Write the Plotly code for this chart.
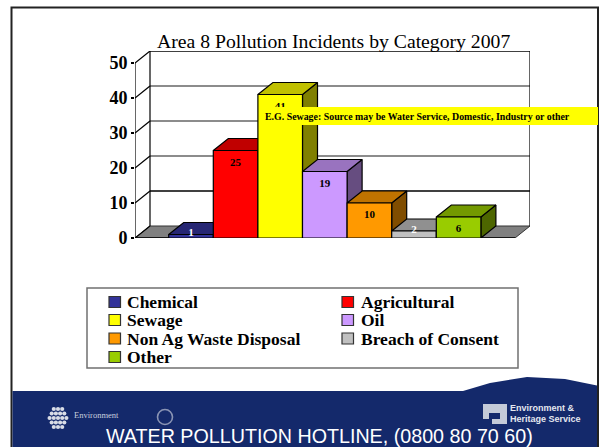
import plotly.graph_objects as go

# ---- data ----
categories = ["Chemical", "Agricultural", "Sewage", "Oil", "Non Ag Waste Disposal", "Breach of Consent", "Other"]
values = [1, 25, 41, 19, 10, 2, 6]
front_colors = ["#333399", "#FF0000", "#FFFF00", "#CC99FF", "#FF9900", "#C0C0C0", "#99CC00"]
top_colors = ["#262673", "#C00000", "#C0C000", "#9973BF", "#BF7300", "#909090", "#739900"]
side_colors = ["#1A1A4D", "#800000", "#808000", "#664D80", "#804D00", "#606060", "#4D6600"]
y_ticks = [0, 10, 20, 30, 40, 50]
title = "Area 8 Pollution Incidents by Category 2007"
note = "E.G. Sewage: Source may be Water Service, Domestic, Industry or other"
footer = "WATER POLLUTION HOTLINE, (0800 80 70 60)"

# ---- chart geometry in axis units ----
W, H = 600, 447
L, R, T, B = 135, 530, 51, 238     # plot box in pixels
PX_X, PX_Y = 44.6, 3.5             # pixels per bar / per incident
X0 = 191                            # pixel centre of first bar
DX, DY = 15 / PX_X, 12 / PX_Y       # depth of the 3-D effect
xmin, xmax = (L - X0) / PX_X, (R - X0) / PX_X
ymax = (B - T) / PX_Y
front_r = xmax - DX


def px(x):
    return x / W


def py(y):
    return 1 - y / H


fig = go.Figure()


def face(xs, ys, color, name, line="#000000", lw=1.2):
    fig.add_trace(go.Scatter(x=xs, y=ys, mode="lines", fill="toself", fillcolor=color,
                             line=dict(color=line, width=lw), name=name,
                             hoverinfo="skip", showlegend=False, cliponaxis=False))


def line(xs, ys, color="#000000", lw=1.2):
    fig.add_trace(go.Scatter(x=xs, y=ys, mode="lines", line=dict(color=color, width=lw),
                             hoverinfo="skip", showlegend=False, cliponaxis=False))


# walls and grid
face([xmin, front_r, xmax, xmin + DX, xmin], [0, 0, DY, DY, 0], "#808080", "floor", "#333333", 1)
for t in y_ticks[1:]:
    line([xmin + DX, xmax], [t + DY, t + DY], "#000000" if t in (10, 50) else "#666666", 1.3 if t in (10, 50) else 1.6)
for t in y_ticks:
    line([xmin, xmin + DX], [t, t + DY])
line([xmin + DX, xmin + DX], [DY, 50 + DY])
line([xmax, xmax], [DY, 50 + DY])
line([xmin, xmin], [0, 50])
line([xmin, front_r], [0, 0], "#000000", 1.5)

# bars
for i, v in enumerate(values):
    a, b = i - 0.5, i + 0.5
    face([b, b + DX, b + DX, b, b], [0, DY, v + DY, v, 0], side_colors[i], categories[i] + " side")
    face([a, b, b + DX, a + DX, a], [v, v, v + DY, v + DY, v], top_colors[i], categories[i] + " top")
    face([a, b, b, a, a], [0, 0, v, v, 0], front_colors[i], categories[i])

# value labels
label_y = [v - 3.5 if v > 5 else v + 0.3 for v in values]
fig.add_trace(go.Scatter(
    x=list(range(len(values))), y=label_y, mode="text",
    text=[str(v) for v in values], textposition="middle center",
    textfont=dict(family="Liberation Serif", size=11,
                  color=["#FFFFFF" if v < 5 else "#000000" for v in values], weight="bold"),
    hoverinfo="skip", showlegend=False, cliponaxis=False))

shapes = []


def rect(x0, y0, x1, y1, fill, ln=None, lw=1, layer="below"):
    shapes.append(dict(type="rect", xref="paper", yref="paper", x0=px(x0), x1=px(x1), y0=py(y0), y1=py(y1),
                       fillcolor=fill, line=dict(color=ln, width=lw if ln else 0), layer=layer))


def circle(cx, cy, r, fill, ln=None, lw=1):
    shapes.append(dict(type="circle", xref="paper", yref="paper", x0=px(cx - r), x1=px(cx + r), y0=py(cy + r), y1=py(cy - r),
                       fillcolor=fill, line=dict(color=ln, width=lw if ln else 0), layer="below"))


# slide frame and footer
NAVY = "#14296B"
rect(11.5, 7.5, 598, 448, "#FFFFFF", "#222222", 2)
rect(12.5, 391, 597, 447, NAVY)
swoosh = [(463, 391), (490, 383), (527, 377), (565, 379), (597, 385.5), (597, 391)]
shapes.append(dict(type="path", xref="paper", yref="paper", layer="below", fillcolor=NAVY, line=dict(width=0),
                   path="M " + " L ".join(f"{px(x):.4f},{py(y):.4f}" for x, y in swoosh) + " Z"))

# left logo
for row, n in zip((-9, -4.5, 0, 4.5, 9), (3, 4, 5, 4, 3)):
    for k in range(n):
        circle(58 + (k - (n - 1) / 2) * 4.2, 418 + row, 2.1, "#D8DCE6")
circle(165, 417, 7.5, "rgba(0,0,0,0)", "#8A94B4", 1.6)
# right logo
rect(483, 404, 507, 424, "#C4CAD8")
rect(489, 413, 500, 419, NAVY)
rect(483, 419, 492, 424, NAVY)

# legend
rect(87, 288, 518, 368, "#FFFFFF", "#707070", 1.5)
rows = [302, 320, 338.5, 357]
annots = []
col_x = [(109, 125), (342, 359)]
for i, name in enumerate(categories):
    sx, tx = col_x[i % 2]
    yy = rows[i // 2]
    rect(sx, yy - 5.5, sx + 11.5, yy + 5.5, front_colors[i], "#333333", 1.2)
    annots.append(dict(xref="paper", yref="paper", x=px(tx), y=py(yy), xanchor="left", yanchor="middle",
                       text=f"<b>{name}</b>", showarrow=False,
                       font=dict(family="Liberation Serif", size=17.5, color="#000000")))

# yellow note band (above the bars)
rect(262, 107, 598, 125, "#FFFF00", layer="above")
annots.append(dict(xref="paper", yref="paper", x=px(263), y=py(116.5), xanchor="left", yanchor="middle",
                   text=f"<b>{note}</b>", showarrow=False,
                   font=dict(family="Liberation Serif", size=9.9, color="#000000")))
# title
annots.append(dict(xref="paper", yref="paper", x=px(333), y=py(41.5), xanchor="center", yanchor="middle",
                   text=title, showarrow=False,
                   font=dict(family="Liberation Serif", size=19.7, color="#000000")))
# footer text
annots.append(dict(xref="paper", yref="paper", x=px(319), y=py(436), xanchor="center", yanchor="middle",
                   text=footer, showarrow=False,
                   font=dict(family="Liberation Sans", size=19.7, color="#FFFFFF")))
annots.append(dict(xref="paper", yref="paper", x=px(508), y=py(408), xanchor="left", yanchor="middle",
                   text="<b>Environment &amp;</b>", showarrow=False,
                   font=dict(family="Liberation Sans", size=9, color="#E4E7EF")))
annots.append(dict(xref="paper", yref="paper", x=px(508), y=py(419), xanchor="left", yanchor="middle",
                   text="<b>Heritage Service</b>", showarrow=False,
                   font=dict(family="Liberation Sans", size=9, color="#E4E7EF")))
annots.append(dict(xref="paper", yref="paper", x=px(72), y=py(415), xanchor="left", yanchor="middle",
                   text="Environment", showarrow=False,
                   font=dict(family="Liberation Serif", size=8.5, color="#C8CEDE")))

fig.update_layout(
    width=W, height=H, margin=dict(l=0, r=0, t=0, b=0),
    paper_bgcolor="#FFFFFF", plot_bgcolor="rgba(0,0,0,0)",
    showlegend=False, shapes=shapes, annotations=annots,
    xaxis=dict(domain=[px(L), px(R)], range=[xmin, xmax], visible=False, fixedrange=True, automargin=False),
    yaxis=dict(domain=[py(B), py(T)], range=[0, ymax], tickmode="array", tickvals=y_ticks,
               ticktext=[str(t) for t in y_ticks], automargin=False,
               ticks="outside", ticklen=3, tickwidth=1.5, tickcolor="#000000",
               showline=False, showgrid=False, zeroline=False, fixedrange=True,
               tickfont=dict(family="Liberation Serif", size=18, color="#000000", weight="bold")),
)

fig.write_html("out.html", config=dict(displayModeBar=False),
               post_script="document.body.style.margin='0';document.body.style.overflow='hidden';")
